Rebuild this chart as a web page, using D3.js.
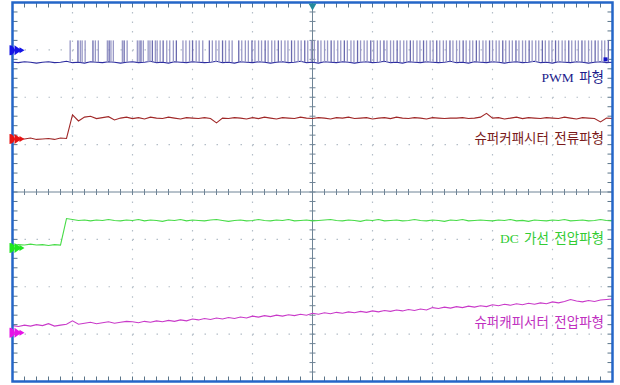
<!DOCTYPE html>
<html>
<head>
<meta charset="utf-8">
<script src="https://cdn.jsdelivr.net/npm/d3@7"></script>
<style>
  body { margin: 0; background: #fff; }
  svg { display: block; }
</style>
</head>
<body>
<div id="scope"></div>
<script>
// screen is 10 x 8 divisions, values are in divisions
const channelNames = ['PWM 파형', '슈퍼커패시터 전류파형', 'DC 가선 전압파형', '슈퍼캐피서터 전압파형'];
const channelColors = ['#2b2b9f', '#a02828', '#48dc48', '#c93ac9'];
const labelColors = ['#1c1c8c', '#7a1a1a', '#33cc33', '#c030c0'];
const markerColors = ['#1414e6', '#e61414', '#1ee61e', '#e614e6'];
const markerLevels = [2.99, 1.12, -1.18, -2.97];
const labelLevels = [2.42, 1.15, -0.97, -2.75];

// sample every 0.1 div
const pwmLow = [
  2.74,2.73,2.75,2.74,2.72,2.74,2.75,2.73,2.74,2.76,
  2.73,2.74,2.72,2.75,2.74,2.73,2.75,2.74,2.72,2.74,
  2.75,2.73,2.74,2.76,2.73,2.74,2.72,2.75,2.74,2.73,
  2.75,2.74,2.73,2.74,2.76,2.73,2.74,2.72,2.75,2.74,
  2.73,2.75,2.74,2.72,2.74,2.75,2.73,2.74,2.76,2.73,
  2.74,2.72,2.75,2.74,2.73,2.75,2.74,2.72,2.74,2.75,
  2.73,2.74,2.76,2.73,2.74,2.72,2.75,2.74,2.73,2.75,
  2.74,2.73,2.74,2.76,2.73,2.74,2.72,2.75,2.74,2.73,
  2.75,2.74,2.72,2.74,2.75,2.73,2.74,2.76,2.73,2.74,
  2.72,2.75,2.74,2.73,2.75,2.74,2.72,2.74,2.75,2.73,
  2.74
];
const pwmHigh = 3.20;
const pwmPulses = [
  0.96,1.09,1.13,1.16,1.21,1.34,1.38,1.43,1.58,1.61,1.64,1.68,1.83,1.86,1.91,
  2.08,2.11,2.14,2.18,2.26,2.29,2.33,2.38,2.41,
  2.46,2.51,2.57,2.62,2.68,2.73,2.84,2.89,2.95,3.00,3.06,3.11,3.17,
  3.28,3.33,3.39,3.44,3.50,3.55,3.61,3.66,3.77,3.82,3.88,3.93,3.99,
  4.04,4.10,4.15,4.21,4.26,4.32,4.37,4.43,4.48,4.54,4.59,4.65,4.70,4.76,4.81,4.87,4.92,4.98,
  5.03,5.09,5.14,5.20,5.25,5.31,5.36,5.42,5.47,5.53,5.58,5.64,5.69,5.75,5.80,5.86,5.91,5.97,
  6.02,6.08,6.13,6.19,6.24,6.30,6.35,6.41,6.46,6.52,6.57,6.63,6.68,6.74,6.79,6.85,6.90,6.96,
  7.01,7.07,7.12,7.18,7.23,7.29,7.34,7.40,7.45,7.51,7.56,7.62,7.67,7.73,7.78,7.84,7.89,7.95,
  8.00,8.06,8.11,8.17,8.22,8.28,8.33,8.39,8.44,8.50,8.55,8.61,8.66,8.72,8.77,8.83,8.88,8.94,8.99,
  9.05,9.10,9.16,9.21,9.27,9.32,9.38,9.43,9.49,9.54,9.60,9.65,9.71,9.76,9.82,9.87,9.93
];
const capCurrent = [
  1.11,1.13,1.12,1.14,1.11,1.12,1.13,1.11,1.14,1.13,
  1.63,1.50,1.58,1.60,1.55,1.57,1.59,1.52,1.56,1.58,
  1.55,1.57,1.54,1.58,1.56,1.55,1.58,1.56,1.54,1.57,
  1.56,1.55,1.57,1.55,1.46,1.56,1.55,1.57,1.56,1.54,
  1.57,1.55,1.58,1.56,1.54,1.57,1.56,1.55,1.58,1.56,
  1.55,1.57,1.56,1.54,1.57,1.56,1.58,1.55,1.56,1.57,
  1.54,1.56,1.57,1.55,1.58,1.56,1.55,1.57,1.56,1.54,
  1.57,1.56,1.55,1.56,1.56,1.57,1.55,1.56,1.58,1.66,
  1.56,1.57,1.54,1.56,1.58,1.55,1.57,1.56,1.55,1.57,
  1.56,1.55,1.58,1.56,1.54,1.57,1.56,1.55,1.48,1.56,
  1.55
];
const dcVoltage = [
  -1.13,-1.11,-1.12,-1.10,-1.12,-1.11,-1.13,-1.11,-1.12,-0.56,
  -0.58,-0.60,-0.59,-0.61,-0.59,-0.60,-0.58,-0.60,-0.61,-0.59,
  -0.60,-0.58,-0.61,-0.59,-0.60,-0.62,-0.59,-0.60,-0.58,-0.61,
  -0.59,-0.60,-0.61,-0.59,-0.58,-0.60,-0.62,-0.60,-0.59,-0.61,
  -0.60,-0.58,-0.60,-0.61,-0.59,-0.60,-0.58,-0.61,-0.60,-0.59,
  -0.61,-0.60,-0.59,-0.58,-0.60,-0.61,-0.59,-0.60,-0.62,-0.59,
  -0.60,-0.58,-0.61,-0.60,-0.59,-0.61,-0.60,-0.58,-0.60,-0.61,
  -0.59,-0.60,-0.62,-0.59,-0.60,-0.58,-0.61,-0.60,-0.59,-0.60,
  -0.61,-0.59,-0.60,-0.58,-0.61,-0.60,-0.62,-0.59,-0.60,-0.61,
  -0.59,-0.60,-0.58,-0.61,-0.60,-0.59,-0.61,-0.60,-0.58,-0.60,
  -0.61
];
const capVoltage = [
  -2.82,-2.84,-2.81,-2.83,-2.80,-2.82,-2.78,-2.83,-2.81,-2.79,
  -2.72,-2.79,-2.77,-2.75,-2.78,-2.76,-2.74,-2.77,-2.75,-2.73,
  -2.74,-2.76,-2.73,-2.75,-2.72,-2.74,-2.71,-2.73,-2.70,-2.72,
  -2.68,-2.70,-2.67,-2.69,-2.66,-2.68,-2.65,-2.67,-2.64,-2.66,
  -2.62,-2.64,-2.61,-2.63,-2.60,-2.62,-2.59,-2.61,-2.58,-2.60,
  -2.56,-2.58,-2.55,-2.57,-2.54,-2.56,-2.53,-2.55,-2.52,-2.54,
  -2.51,-2.53,-2.50,-2.52,-2.49,-2.51,-2.48,-2.50,-2.47,-2.49,
  -2.44,-2.46,-2.43,-2.45,-2.42,-2.44,-2.41,-2.43,-2.40,-2.42,
  -2.38,-2.40,-2.37,-2.39,-2.36,-2.38,-2.35,-2.37,-2.34,-2.36,
  -2.32,-2.34,-2.31,-2.27,-2.30,-2.32,-2.29,-2.31,-2.28,-2.27,
  -2.26
];
const sampleT = d3.range(0, 10.001, 0.1);

const W = 620, H = 385;
const x = d3.scaleLinear().domain([0, 10]).range([12.5, 612.5]);
const y = d3.scaleLinear().domain([-4, 4]).range([381.5, 2.5]);

const svg = d3.select('#scope').append('svg')
  .attr('width', W).attr('height', H);

svg.append('rect').attr('width', W).attr('height', H).attr('fill', '#fff');

const grid = svg.append('g');
const minorX = d3.range(0, 10.001, 0.2);
const minorY = d3.range(-4, 4.001, 0.2);

// dotted division lines
grid.selectAll('.gx').data(d3.range(1, 10).filter(d => d !== 5)).enter().append('line')
  .attr('x1', d => x(d)).attr('x2', d => x(d))
  .attr('y1', y(4)).attr('y2', y(-4))
  .attr('stroke', '#b4bec8').attr('stroke-width', 1.2)
  .attr('stroke-dasharray', '1.5,' + (y(0) - y(0.2) - 1.5));
grid.selectAll('.gy').data(d3.range(-3, 4).filter(d => d !== 0)).enter().append('line')
  .attr('y1', d => y(d)).attr('y2', d => y(d))
  .attr('x1', x(0)).attr('x2', x(10))
  .attr('stroke', '#b4bec8').attr('stroke-width', 1.2)
  .attr('stroke-dasharray', '1.5,' + (x(0.2) - x(0) - 1.5));

// centre cross
grid.append('line').attr('x1', x(5)).attr('x2', x(5)).attr('y1', y(4)).attr('y2', y(-4))
  .attr('stroke', '#6f8496').attr('stroke-width', 1);
grid.append('line').attr('x1', x(0)).attr('x2', x(10)).attr('y1', y(0)).attr('y2', y(0))
  .attr('stroke', '#6f8496').attr('stroke-width', 1);
grid.selectAll('.cx').data(minorX).enter().append('line')
  .attr('x1', d => x(d)).attr('x2', d => x(d))
  .attr('y1', y(0) - 3).attr('y2', y(0) + 3)
  .attr('stroke', '#6f8496');
grid.selectAll('.cy').data(minorY).enter().append('line')
  .attr('y1', d => y(d)).attr('y2', d => y(d))
  .attr('x1', x(5) - 3).attr('x2', x(5) + 3)
  .attr('stroke', '#6f8496');

// frame ticks
grid.selectAll('.tt').data(minorX).enter().append('line')
  .attr('x1', d => x(d)).attr('x2', d => x(d))
  .attr('y1', y(4)).attr('y2', y(4) + 5).attr('stroke', '#5a7488');
grid.selectAll('.tb').data(minorX).enter().append('line')
  .attr('x1', d => x(d)).attr('x2', d => x(d))
  .attr('y1', y(-4)).attr('y2', y(-4) - 5).attr('stroke', '#5a7488');
grid.selectAll('.tl').data(minorY).enter().append('line')
  .attr('y1', d => y(d)).attr('y2', d => y(d))
  .attr('x1', x(0)).attr('x2', x(0) + 5).attr('stroke', '#5a7488');
grid.selectAll('.tr').data(minorY).enter().append('line')
  .attr('y1', d => y(d)).attr('y2', d => y(d))
  .attr('x1', x(10)).attr('x2', x(10) - 5).attr('stroke', '#5a7488');

// traces
const line = d3.line().x((d, i) => x(sampleT[i])).y(d => y(d));
const traces = svg.append('g').attr('fill', 'none').attr('stroke-width', 1.1);

svg.append('g').selectAll('rect').data(pwmPulses).enter().append('rect')
  .attr('x', d => x(d) - 0.6).attr('width', 1.3)
  .attr('y', y(pwmHigh)).attr('height', y(2.74) - y(pwmHigh))
  .attr('fill', (d, i) => i % 4 === 1 ? '#6a6aae' : '#9898c6');

[pwmLow, capCurrent, dcVoltage, capVoltage].forEach((vals, i) => {
  traces.append('path').attr('d', line(vals)).attr('stroke', channelColors[i]);
});

// frame
svg.append('rect')
  .attr('x', x(0)).attr('y', y(4))
  .attr('width', x(10) - x(0)).attr('height', y(-4) - y(4))
  .attr('fill', 'none').attr('stroke', '#2466c8').attr('stroke-width', 2.5);

// channel markers
const mk = svg.append('g');
markerLevels.forEach((lv, i) => {
  mk.append('path')
    .attr('transform', `translate(${x(0)},${y(lv)})`)
    .attr('d', 'M-3,-5 A5,5 0 0 1 -3,5 Z M2,-5 L9,0 L2,5 Z M7,-3 L12,0 L7,3 Z')
    .attr('fill', markerColors[i]);
});

// trigger markers
svg.append('path')
  .attr('d', `M${x(5) - 4},${y(4) + 1} L${x(5) + 4},${y(4) + 1} L${x(5)},${y(4) + 8} Z`)
  .attr('fill', '#23899c');
svg.append('rect').attr('x', x(10) - 9).attr('y', y(2.8) - 2).attr('width', 4).attr('height', 4)
  .attr('fill', '#1414c8');

// labels
svg.append('g').selectAll('text').data(channelNames).enter().append('text')
  .attr('x', 604)
  .attr('y', (d, i) => y(labelLevels[i]) + 5)
  .attr('text-anchor', 'end')
  .attr('font-family', '"Liberation Serif", "Noto Sans CJK KR", serif')
  .attr('font-size', 13.5)
  .attr('fill', (d, i) => labelColors[i])
  .attr('word-spacing', 2)
  .text(d => d);
</script>
</body>
</html>
